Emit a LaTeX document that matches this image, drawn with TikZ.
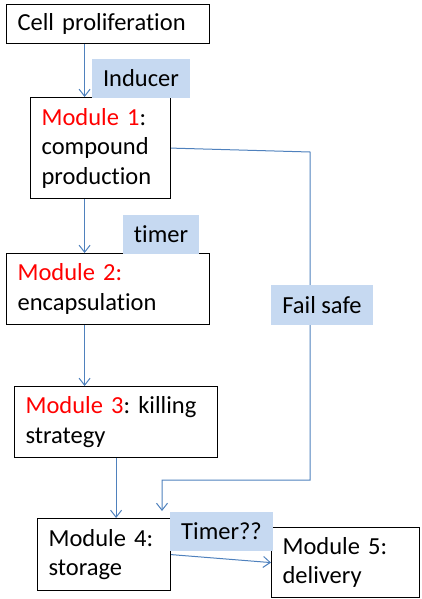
\documentclass[tikz,border=0pt]{standalone}
\usepackage{fontspec}
\setmainfont{Carlito}[Ligatures=NoCommon]
\usetikzlibrary{arrows.meta}
\definecolor{lnblue}{HTML}{4F81BD}
\definecolor{lblfill}{HTML}{C6D9F1}
\definecolor{modred}{HTML}{FF0000}
\frenchspacing
\begin{document}
\begin{tikzpicture}[x=1pt,y=-1pt,
  every node/.style={font=\fontsize{24.5}{29.5}\selectfont},
  box/.style={draw=black, line width=1.2pt, fill=white, anchor=north west, inner xsep=11pt, inner ysep=0pt, align=left},
  lbl/.style={fill=lblfill, inner sep=0pt, align=center},
  arr/.style={draw=lnblue, line width=1pt, -{Straight Barb[length=7pt,width=11pt]}}]
\useasboundingbox (0,0) rectangle (421,599);
\node[box, minimum width=203pt, minimum height=39pt, text width=181pt] (cell) at (6,4) {Cell proliferation};
\node[box, minimum width=140pt, minimum height=101pt, text width=118pt] (m1) at (30,97) {\textcolor{modred}{Module 1}:\\compound\\production};
\node[box, minimum width=203pt, minimum height=71pt, text width=181pt] (m2) at (6,253) {\textcolor{modred}{Module 2:}\\encapsulation};
\node[box, minimum width=203pt, minimum height=71pt, text width=181pt] (m3) at (14,386) {\textcolor{modred}{Module 3}: killing\\strategy};
\node[box, minimum width=133pt, minimum height=72pt, text width=111pt] (m4) at (37,518) {Module 4:\\storage};
\node[box, minimum width=148pt, minimum height=70pt, text width=126pt] (m5) at (271,527) {Module 5:\\delivery};
\coordinate (fs1) at (310,152);
\coordinate (fs2) at (310,480);
\coordinate (fs3) at (162,480);
\coordinate (fs4) at (162,511);
\draw[arr] ([xshift=-23.5]cell.south) -- ([xshift=-23.5]cell.south |- m1.north);
\draw[arr] ([xshift=-16]m1.south) -- ([xshift=-16]m1.south |- m2.north);
\draw[arr] ([xshift=-23.5]m2.south) -- ([xshift=-23.5]m2.south |- m3.north);
\draw[arr] (m3.south) -- (m3.south |- m4.north);
\draw[arr] (m1.east) -- (fs1) -- (fs2) -- (fs3) -- (fs4);
\draw[arr] (m4.east) -- (m5.west);
\node[lbl, minimum width=98pt, minimum height=39pt] (ind) at (141,78.5) {Inducer};
\node[lbl, minimum width=76pt, minimum height=39pt] (tim) at (161,234.5) {timer};
\node[lbl, minimum width=102pt, minimum height=40pt] (fail) at (322,305) {Fail safe};
\node[lbl, minimum width=103pt, minimum height=39pt] (tim2) at (221.5,531.5) {Timer??};
\end{tikzpicture}
\end{document}
